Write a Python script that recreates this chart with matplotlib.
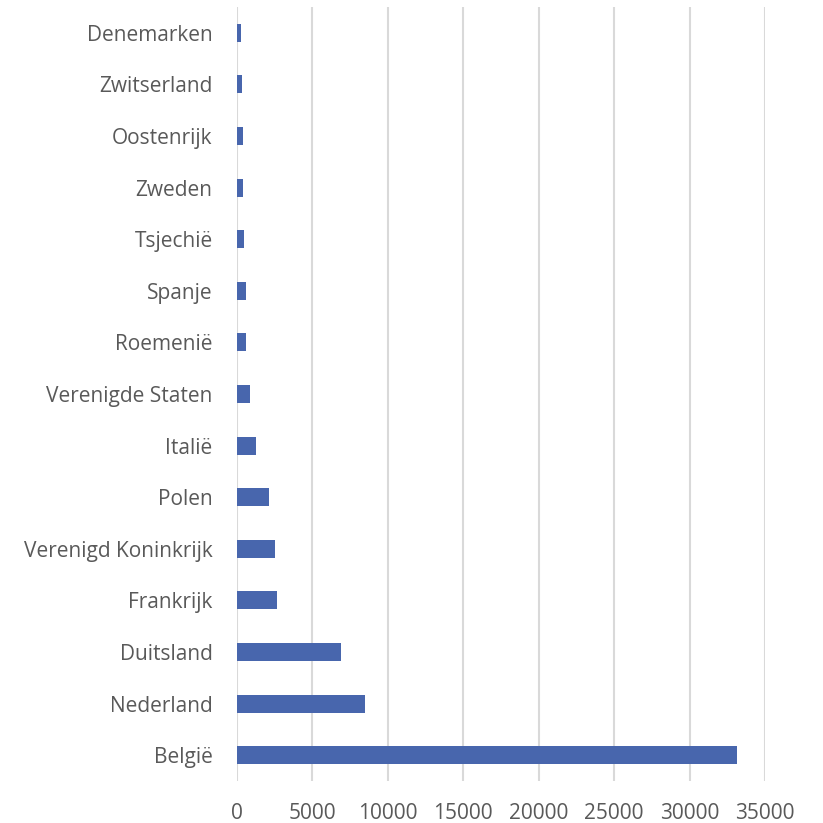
import matplotlib
matplotlib.use("Agg")
import matplotlib.pyplot as plt

countries = ["België", "Nederland", "Duitsland", "Frankrijk", "Verenigd Koninkrijk",
             "Polen", "Italië", "Verenigde Staten", "Roemenië", "Spanje",
             "Tsjechië", "Zweden", "Oostenrijk", "Zwitserland", "Denemarken"]
values = [33130, 8470, 6900, 2650, 2520, 2100, 1280, 860, 610, 620, 440, 400, 390, 300, 290]
xticks = [0, 5000, 10000, 15000, 20000, 25000, 30000, 35000]

plt.rcParams['font.family'] = ['Open Sans', 'DejaVu Sans']
fig = plt.figure(figsize=(8.23, 8.23), dpi=100)
ax = fig.add_axes([237/823, 1 - 781/823, (765 - 237)/823, (781 - 7)/823])

ax.barh(range(len(countries)), values, height=0.35, color="#4866AD", zorder=3)
ax.set_yticks(range(len(countries)))
ax.set_yticklabels(countries)
ax.set_ylim(-0.5, len(countries) - 0.5)
ax.set_xlim(0, 35000)
ax.set_xticks(xticks)
ax.set_xticklabels([str(t) for t in xticks])
ax.grid(axis='x', color="#d9d9d9", linewidth=1.5, zorder=0)
for s in ax.spines.values():
    s.set_visible(False)
ax.tick_params(axis='both', length=0, labelsize=15, colors="#595959")
ax.tick_params(axis='x', pad=16)
ax.tick_params(axis='y', pad=17.5)

fig.savefig("out.png", dpi=100)
